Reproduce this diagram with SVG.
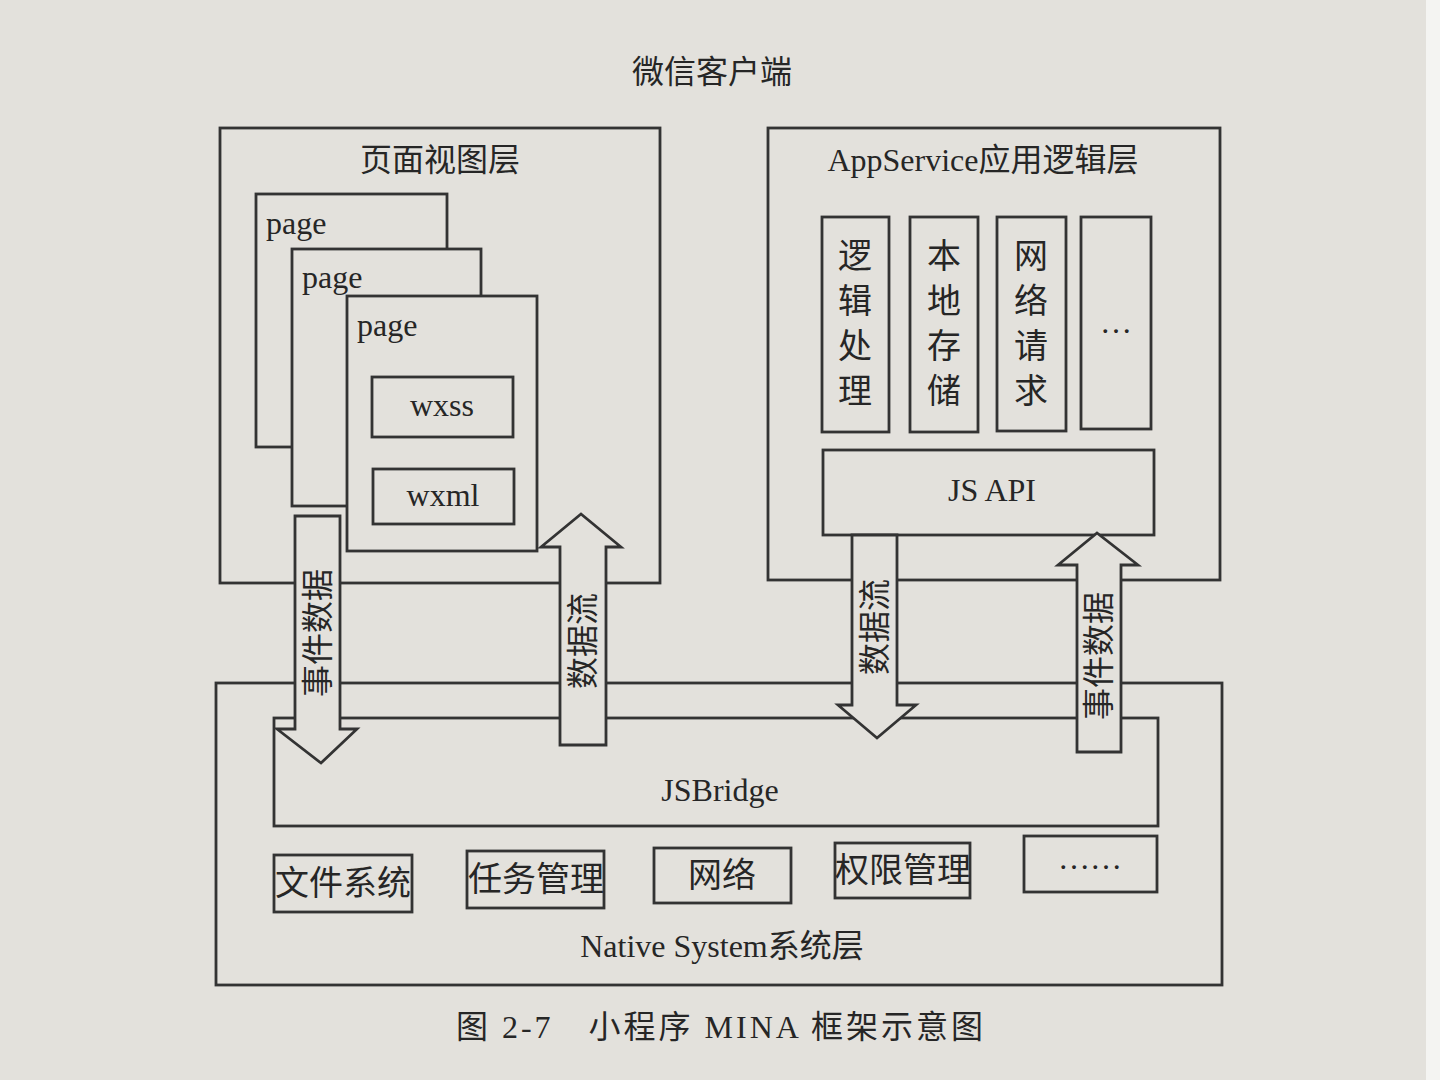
<svg xmlns="http://www.w3.org/2000/svg" width="1440" height="1080" viewBox="0 0 1440 1080">
<style>
.bx{fill:#e3e1dc;stroke:#333;stroke-width:2.8}
.ar{fill:#e3e1dc;stroke:#333;stroke-width:2.8;stroke-linejoin:miter}
.t{font-family:"Liberation Serif","Noto Sans CJK SC",serif;fill:#262626;font-size:32px}
.c{text-anchor:middle;dominant-baseline:central}
.v{font-size:34px}
</style>
<rect x="0" y="0" width="1440" height="1080" fill="#e3e1dc"/>
<rect x="1426" y="0" width="14" height="1080" fill="#f4f4f2"/>
<text class="t c" x="712" y="72">微信客户端</text>

<g id="view-layer">
<rect class="bx" x="220" y="128" width="440" height="455"/>
<text class="t c" x="440" y="160">页面视图层</text>
</g>
<g id="page1"><rect class="bx" x="256" y="194" width="191" height="253"/><text class="t" x="266" y="234" font-size="33">page</text></g>
<g id="page2"><rect class="bx" x="292" y="249" width="189" height="257"/><text class="t" x="302" y="288" font-size="33">page</text></g>
<g id="page3"><rect class="bx" x="347" y="296" width="190" height="255"/><text class="t" x="357" y="336" font-size="33">page</text></g>
<g id="wxss"><rect class="bx" x="372" y="377" width="141" height="60"/><text class="t c" x="442" y="405">wxss</text></g>
<g id="wxml"><rect class="bx" x="373" y="469" width="141" height="55"/><text class="t c" x="443" y="495">wxml</text></g>

<g id="appservice-layer">
<rect class="bx" x="768" y="128" width="452" height="452"/>
<text class="t c" x="983" y="160">AppService应用逻辑层</text>
</g>
<g id="logic"><rect class="bx" x="822" y="217" width="67" height="215"/>
<text class="t c v" x="855"><tspan x="855" y="256">逻</tspan><tspan x="855" y="301">辑</tspan><tspan x="855" y="346">处</tspan><tspan x="855" y="391">理</tspan></text></g>
<g id="storage"><rect class="bx" x="910" y="217" width="68" height="215"/>
<text class="t c v" x="944"><tspan x="944" y="256">本</tspan><tspan x="944" y="301">地</tspan><tspan x="944" y="346">存</tspan><tspan x="944" y="391">储</tspan></text></g>
<g id="network-req"><rect class="bx" x="997" y="217" width="69" height="214"/>
<text class="t c v" x="1031"><tspan x="1031" y="256">网</tspan><tspan x="1031" y="301">络</tspan><tspan x="1031" y="346">请</tspan><tspan x="1031" y="391">求</tspan></text></g>
<g id="more-app"><rect class="bx" x="1081" y="217" width="70" height="212"/><text class="t c" x="1116" y="322">…</text></g>
<g id="jsapi"><rect class="bx" x="823" y="450" width="331" height="85"/><text class="t c" x="992" y="490">JS API</text></g>

<g id="native-layer">
<rect class="bx" x="216" y="683" width="1006" height="302"/>
<text class="t c" x="722" y="946" font-size="33">Native System系统层</text>
</g>
<g id="jsbridge"><rect class="bx" x="274" y="718" width="884" height="108"/><text class="t c" x="720" y="790">JSBridge</text></g>
<g id="fs"><rect class="bx" x="274" y="855" width="138" height="57"/><text class="t c v" x="343" y="883">文件系统</text></g>
<g id="task"><rect class="bx" x="467" y="851" width="137" height="57"/><text class="t c v" x="536" y="879">任务管理</text></g>
<g id="net"><rect class="bx" x="654" y="848" width="137" height="55"/><text class="t c v" x="722" y="875">网络</text></g>
<g id="perm"><rect class="bx" x="835" y="843" width="135" height="55"/><text class="t c v" x="903" y="870">权限管理</text></g>
<g id="more-native"><rect class="bx" x="1024" y="836" width="133" height="56"/><text class="t c" x="1090" y="858">……</text></g>

<g id="connectors">
<polygon class="ar" points="295,516 340,516 340,729 357,729 321,763 277,729 295,729"/>
<text class="t c" transform="translate(318,633) rotate(-90)">事件数据</text>
<polygon class="ar" points="560,745 560,547 541,547 581,514 621,547 606,547 606,745"/>
<text class="t c" transform="translate(583,641) rotate(-90)">数据流</text>
<polygon class="ar" points="852,535 897,535 897,705 916,705 877,738 838,705 852,705"/>
<text class="t c" transform="translate(875,627) rotate(-90)">数据流</text>
<polygon class="ar" points="1077,752 1077,565 1058,565 1097,533 1138,565 1121,565 1121,752"/>
<text class="t c" transform="translate(1099,656) rotate(-90)">事件数据</text>
</g>

<text class="t c" x="721" y="1027" font-size="40" letter-spacing="3">图 2-7　小程序 MINA 框架示意图</text>
</svg>
